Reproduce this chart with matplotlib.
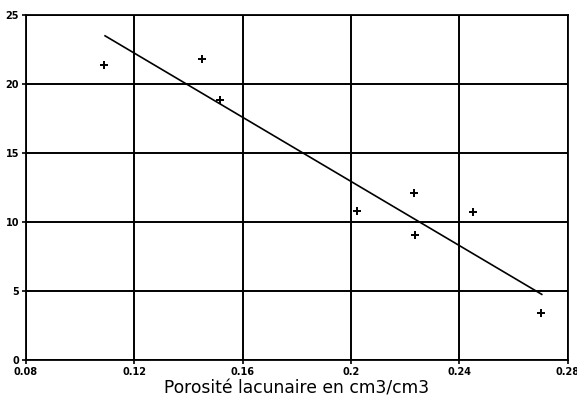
import matplotlib
matplotlib.use("Agg")
import matplotlib.pyplot as plt

# data
porosity = [0.1088, 0.1448, 0.1517, 0.2021, 0.2231, 0.2235, 0.2451, 0.2702]
values = [21.38, 21.81, 18.82, 10.80, 12.08, 9.04, 10.70, 3.43]
fit_x = [0.1092, 0.2704]
fit_y = [23.48, 4.76]
xticks = [0.08, 0.12, 0.16, 0.2, 0.24, 0.28]
xtick_labels = ["0.08", "0.12", "0.16", "0.2", "0.24", "0.28"]
yticks = [0, 5, 10, 15, 20, 25]

fig = plt.figure(figsize=(5.77, 4.01), dpi=100)
ax = fig.add_axes([0.045, 0.102, 0.939, 0.861])
ax.set_xlim(0.08, 0.28)
ax.set_ylim(0, 25)
ax.set_xticks(xticks)
ax.set_xticklabels(xtick_labels)
ax.set_yticks(yticks)
ax.grid(True, color="black", linewidth=1.4)
ax.set_axisbelow(True)
for s in ax.spines.values():
    s.set_linewidth(1.3)
ax.tick_params(direction="out", length=3, width=1.2, labelsize=7, pad=2)
for lab in ax.get_xticklabels() + ax.get_yticklabels():
    lab.set_fontweight("bold")

ax.plot(fit_x, fit_y, color="black", linewidth=1.2)
ax.plot(porosity, values, linestyle="none", marker="+", markersize=6,
        markeredgewidth=1.4, color="black")

ax.set_xlabel("Porosité lacunaire en cm3/cm3", fontsize=12.3, labelpad=2)

fig.savefig("out.png", dpi=100)
